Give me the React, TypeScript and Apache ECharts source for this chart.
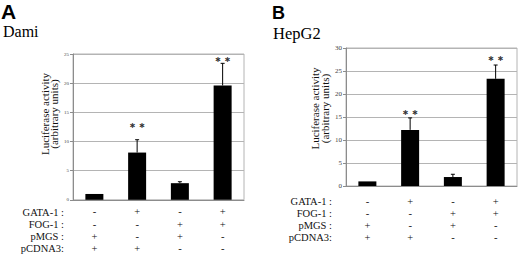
import React, { useEffect, useRef } from "react";
import * as echarts from "echarts";

const categories = ["c1", "c2", "c3", "c4"];
const rowNames = ["GATA-1 :", "FOG-1 :", "pMGS :", "pCDNA3:"];
const gata1 = ["-", "+", "-", "+"];
const fog1 = ["-", "-", "+", "+"];
const pmgs = ["+", "-", "+", "-"];
const pcdna3 = ["+", "+", "-", "-"];

const damiValues = [1.0, 8.1, 2.85, 19.6];
const damiErrors = [0, 2.2, 0.25, 3.8];
const damiStarLevels = [null, 12.7, null, 24.1];
const damiTicks = { min: 0, max: 25, interval: 5 };

const hepValues = [1.0, 12.2, 1.95, 23.3];
const hepErrors = [0, 2.6, 0.6, 3.0];
const hepStarLevels = [null, 15.9, null, 27.8];
const hepTicks = { min: 0, max: 30, interval: 5 };

const SERIF = "Liberation Serif, Times New Roman, serif";
const SANS = "Liberation Sans, Arial, sans-serif";
const GRID_COLOR = "#b4b4b4";

function conditionLabel(_v: string, idx: number) {
  return [gata1[idx], fog1[idx], pmgs[idx], pcdna3[idx]].join("\n");
}

function errorItem(params: any, api: any) {
  const x = api.value(0);
  const v = api.value(1);
  const err = api.value(2);
  const star = api.value(3);
  const children: any[] = [];
  if (err > 0) {
    const p0 = api.coord([x, v]);
    const p1 = api.coord([x, v + err]);
    children.push({
      type: "line",
      shape: { x1: p0[0], y1: p0[1], x2: p1[0], y2: p1[1] },
      style: { stroke: "#000", lineWidth: 1 },
    });
    children.push({
      type: "line",
      shape: { x1: p1[0] - 2, y1: p1[1], x2: p1[0] + 2, y2: p1[1] },
      style: { stroke: "#000", lineWidth: 1 },
    });
  }
  if (star != null && !isNaN(star)) {
    const ps = api.coord([x, star]);
    children.push({
      type: "text",
      x: ps[0],
      y: ps[1],
      style: {
        text: "∗ ∗",
        fill: "#333",
        fontFamily: "DejaVu Sans",
        fontWeight: "bold",
        fontSize: 8,
        align: "center",
        verticalAlign: "middle",
      },
    });
  }
  return { type: "group", children };
}

function buildData(values: number[], errors: number[], stars: (number | null)[]) {
  return values.map((v, i) => [i, v, errors[i], stars[i] == null ? NaN : stars[i]]);
}

export default function App() {
  const ref = useRef<HTMLDivElement>(null);
  useEffect(() => {
    if (!ref.current) return;
    const chart = echarts.init(ref.current, undefined, { renderer: "svg" });

    const yAxisBase = (ticks: any, gridIndex: number, fontSize: number) => ({
      type: "value",
      gridIndex,
      min: ticks.min,
      max: ticks.max,
      interval: ticks.interval,
      axisLine: { show: true, lineStyle: { color: "#8c8c8c", width: 1 } },
      axisTick: { show: true, length: 3, lineStyle: { color: "#8c8c8c" } },
      splitLine: { show: true, lineStyle: { color: GRID_COLOR, width: 1 } },
      axisLabel: {
        fontFamily: SERIF,
        fontSize,
        color: "#444",
        margin: 4,
      },
    });

    const xAxisBase = (gridIndex: number, margin: number, lineHeight: number) => ({
      type: "category",
      gridIndex,
      data: categories,
      axisLine: { show: true, lineStyle: { color: "#8c8c8c" } },
      axisTick: { show: false },
      axisLabel: {
        interval: 0,
        formatter: conditionLabel,
        fontFamily: SERIF,
        fontSize: 10.5,
        lineHeight,
        color: "#111",
        margin,
      },
    });

    const rowLabels = (rightX: number, firstY: number, step: number) =>
      rowNames.map((t, i) => ({
        type: "text",
        x: rightX,
        y: firstY + i * step,
        style: {
          text: t,
          fontFamily: SERIF,
          fontSize: 10.5,
          fill: "#111",
          align: "right",
          verticalAlign: "middle",
        },
      }));

    const yTitle = (x: number, y: number) => ({
      type: "text",
      x,
      y,
      rotation: Math.PI / 2,
      style: {
        text: "Luciferase activity\n(arbitrary units)",
        fontFamily: SERIF,
        fontSize: 11,
        lineHeight: 9.5,
        fill: "#111",
        align: "center",
        verticalAlign: "middle",
      },
    });

    chart.setOption({
      animation: false,
      backgroundColor: "#fff",
      grid: [
        { left: 73, right: 276, top: 54, bottom: 55, show: true, borderColor: GRID_COLOR, borderWidth: 1 },
        { left: 346, right: 3, top: 48, bottom: 69, show: true, borderColor: GRID_COLOR, borderWidth: 1 },
      ],
      xAxis: [xAxisBase(0, 6, 12.3), xAxisBase(1, 9, 12)],
      yAxis: [yAxisBase(damiTicks, 0, 5), yAxisBase(hepTicks, 1, 7)],
      series: [
        {
          type: "bar",
          xAxisIndex: 0,
          yAxisIndex: 0,
          data: damiValues,
          barWidth: 18,
          itemStyle: { color: "#000" },
        },
        {
          type: "bar",
          xAxisIndex: 1,
          yAxisIndex: 1,
          data: hepValues,
          barWidth: 18,
          itemStyle: { color: "#000" },
        },
        {
          type: "custom",
          xAxisIndex: 0,
          yAxisIndex: 0,
          renderItem: errorItem,
          data: buildData(damiValues, damiErrors, damiStarLevels),
          z: 5,
        },
        {
          type: "custom",
          xAxisIndex: 1,
          yAxisIndex: 1,
          renderItem: errorItem,
          data: buildData(hepValues, hepErrors, hepStarLevels),
          z: 5,
        },
      ],
      graphic: [
        {
          type: "text",
          x: 1,
          y: 1,
          style: { text: "A", fontFamily: SANS, fontWeight: "bold", fontSize: 21, fill: "#000" },
        },
        {
          type: "text",
          x: 3,
          y: 23,
          style: { text: "Dami", fontFamily: SERIF, fontSize: 16, fill: "#000" },
        },
        {
          type: "text",
          x: 272,
          y: 4,
          style: { text: "B", fontFamily: SANS, fontWeight: "bold", fontSize: 18, fill: "#000" },
        },
        {
          type: "text",
          x: 273,
          y: 25,
          style: { text: "HepG2", fontFamily: SERIF, fontSize: 16.5, fill: "#000" },
        },
        yTitle(49.5, 114),
        yTitle(320, 108.5),
        ...rowLabels(64, 212, 12.3),
        ...rowLabels(332, 201, 12),
      ],
    });
    return () => chart.dispose();
  }, []);
  return (
    <div
      ref={ref}
      style={{ position: "absolute", left: 0, top: 0, width: 520, height: 255, background: "#fff" }}
    />
  );
}
